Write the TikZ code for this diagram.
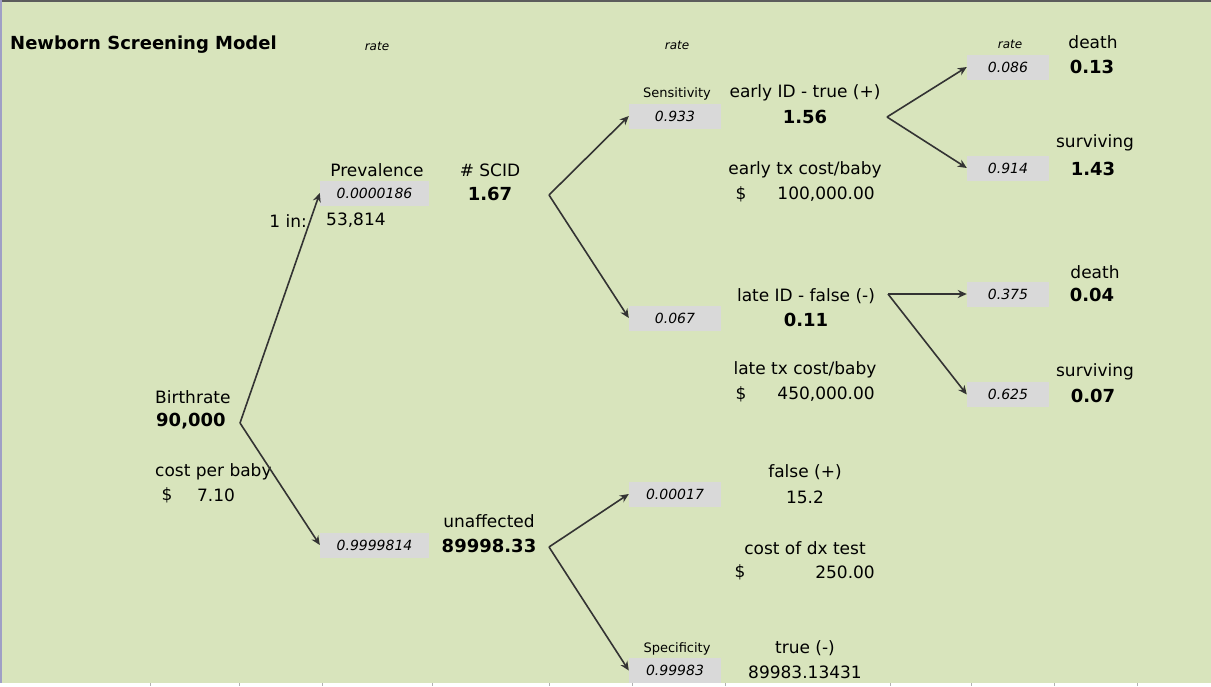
\documentclass[tikz,border=0pt]{standalone}
\usepackage{fontspec}
\setmainfont{DejaVu Sans}
\usetikzlibrary{arrows.meta}
\definecolor{sheet}{RGB}{216,228,188}
\definecolor{cellgray}{RGB}{217,217,217}
\definecolor{branch}{RGB}{51,51,51}
\newcommand{\probbox}[1]{
	\node[fill = cellgray, inner sep = 0, minimum width = #1, minimum height = 25, font = \fontsize{14}{16}\itshape]
}

\begin{document}
\begin{tikzpicture}[x=1pt, y=-1pt,
		txt/.style = {font = \fontsize{17}{20}\selectfont, inner sep = 0},
		val/.style = {font = \fontsize{18}{20}\bfseries, inner sep = 0},
		hdr/.style = {font = \fontsize{13}{15}\selectfont, inner sep = 0},
		ratehdr/.style = {font = \fontsize{12}{14}\itshape, inner sep = 0},
		split/.style = {branch, line width = 1.6pt, -{Stealth[length=9pt, width=8pt]}}]

		\useasboundingbox (0,0) rectangle (1211,686);
		\fill[sheet] (0,0) rectangle (1211,686);
		\fill[branch!80] (0,0) rectangle (1211,2);
		\fill[blue!25!gray!60] (0,0) rectangle (2,686);
		\fill[white] (0,683) rectangle (1211,686);
		\foreach \x in {150,239,322,432,549,632,725,890,971,1054,1137}
			\draw[gray!60] (\x,683) -- (\x,686);

		\node[font = \fontsize{18}{20}\bfseries, anchor = west, inner sep = 0] (title) at (10,45) {Newborn Screening Model};
		\node[ratehdr] (rate1) at (377,46) {rate};
		\node[ratehdr] (rate2) at (677,45) {rate};
		\node[ratehdr] (rate3) at (1010,44) {rate};

		% birth cohort
		\node[txt, anchor = west] (birthlbl) at (155,397) {Birthrate};
		\node[val, anchor = west] (birth) at (156,421) {90,000};
		\node[txt, anchor = west] (costlbl) at (155,472) {cost per baby};
		\node[txt] (costcur) at (167,495) {\$};
		\node[txt] (cost) at (216,495) {7.10};
		\coordinate (b0) at (240,423);

		% affected / unaffected
		\node[txt] (prevlbl) at (377,170) {Prevalence};
		\probbox{109} (prev) at (374.5,193) {0.0000186};
		\node[txt, anchor = east] (onein) at (307,221) {1 in:};
		\node[txt, anchor = west] (prevn) at (326,220) {53,814};
		\node[txt] (scidlbl) at (490,170) {\# SCID};
		\node[val] (scid) at (490,194) {1.67};
		\coordinate (b1) at (549,195);

		\probbox{109} (unaff) at (374.5,545) {0.9999814};
		\node[txt] (unafflbl) at (489,521) {unaffected};
		\node[val] (unaffn) at (489,546) {89998.33};
		\coordinate (b2) at (549,547);

		% test results
		\node[hdr] (senslbl) at (677,94) {Sensitivity};
		\probbox{92} (sens) at (675,116) {0.933};
		\node[txt] (earlylbl) at (805,93) {early ID - true (+)};
		\node[val] (early) at (805,117) {1.56};
		\node[txt] (earlycostlbl) at (805,170) {early tx cost/baby};
		\node[txt] (earlycur) at (741,194) {\$};
		\node[txt, anchor = east] (earlycost) at (875,194) {100,000.00};
		\coordinate (b3) at (887,117);

		\probbox{92} (fneg) at (675,318) {0.067};
		\node[txt] (latelbl) at (806,296) {late ID - false (-)};
		\node[val] (late) at (806,320) {0.11};
		\node[txt] (latecostlbl) at (805,370) {late tx cost/baby};
		\node[txt] (latecur) at (741,394) {\$};
		\node[txt, anchor = east] (latecost) at (875,394) {450,000.00};
		\coordinate (b4) at (888,294);

		\probbox{92} (fpos) at (675,494) {0.00017};
		\node[txt] (fposlbl) at (805,472) {false (+)};
		\node[txt] (fposn) at (805,497) {15.2};
		\node[txt] (dxlbl) at (805,548) {cost of dx test};
		\node[txt] (dxcur) at (740,572) {\$};
		\node[txt, anchor = east] (dxcost) at (875,572) {250.00};

		\node[hdr] (speclbl) at (677,649) {Specificity};
		\probbox{92} (spec) at (675,670.5) {0.99983};
		\node[txt] (tneglbl) at (805,648) {true (-)};
		\node[txt] (tneg) at (805,672) {89983.13431};

		% outcomes
		\probbox{82} (edeath) at (1008,67) {0.086};
		\node[txt] (edeathlbl) at (1093,42) {death};
		\node[val] (edeathn) at (1092,67) {0.13};
		\probbox{82} (esurv) at (1008,168) {0.914};
		\node[txt] (esurvlbl) at (1095,143) {surviving};
		\node[val] (esurvn) at (1093,169) {1.43};

		\probbox{82} (ldeath) at (1008,294) {0.375};
		\node[txt] (ldeathlbl) at (1095,272) {death};
		\node[val] (ldeathn) at (1092,295) {0.04};
		\probbox{82} (lsurv) at (1008,394.5) {0.625};
		\node[txt] (lsurvlbl) at (1095,372) {surviving};
		\node[val] (lsurvn) at (1093,396) {0.07};

		\draw[split] (b0) -- (prev.west);
		\draw[split] (b0) -- (unaff.west);
		\draw[split] (b1) -- (sens.west);
		\draw[split] (b1) -- (fneg.west);
		\draw[split] (b2) -- (fpos.west);
		\draw[split] (b2) -- (spec.west);
		\draw[split] (b3) -- (edeath.west);
		\draw[split] (b3) -- (esurv.west);
		\draw[split] (b4) -- (ldeath.west);
		\draw[split] (b4) -- (lsurv.west);

	\end{tikzpicture}
\end{document}
